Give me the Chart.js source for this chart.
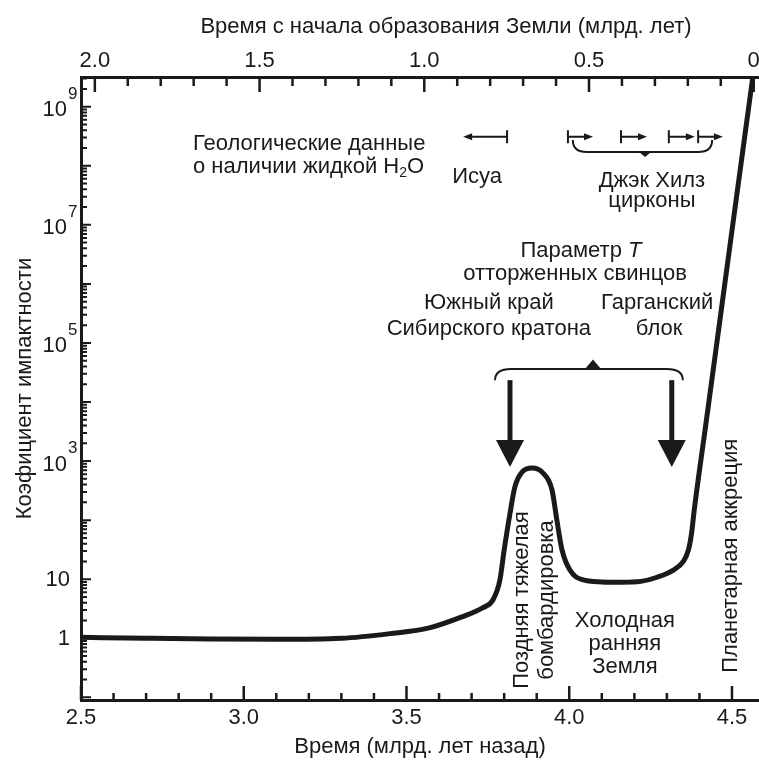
<!DOCTYPE html>
<html>
<head>
<meta charset="utf-8">
<script src="https://cdn.jsdelivr.net/npm/chart.js@4.4.1/dist/chart.umd.min.js"></script>
<style>
  html, body { margin: 0; padding: 0; background: #fff; }
  canvas { display: block; }
</style>
</head>
<body>
<canvas id="impact-chart" width="759" height="761"></canvas>
<script>
// time before present, Gyr (bottom axis)
const age_ga = [2.5, 2.7, 2.9, 3.1, 3.3, 3.45, 3.57, 3.67, 3.735, 3.766, 3.787, 3.80, 3.818, 3.833, 3.855, 3.886, 3.919, 3.947, 3.962, 3.978,
                4.002, 4.04, 4.10, 4.16, 4.22, 4.27, 4.32, 4.35, 4.366, 4.376, 4.384, 4.42, 4.46, 4.50, 4.54, 4.564];
// impact rate relative to today
const impact_rate = [1.04, 1.0, 0.97, 0.96, 1.0, 1.2, 1.5, 2.3, 3.3, 4.5, 9.7, 31, 130, 365, 650, 760, 630, 325, 100, 31,
                     14.3, 9.8, 9.0, 8.9, 9.2, 10.8, 14.3, 19.8, 31, 61, 148, 4300, 1.85e5, 8e6, 3.4e8, 3.2e9];
const bottom_labels = [2.5, 3.0, 3.5, 4.0, 4.5];
const top_labels = [2.0, 1.5, 1.0, 0.5, 0];
const y_label_powers = [0, 1, 3, 5, 7, 9];

const FONT = "'Liberation Sans', Arial, sans-serif";
const INK = '#1a1a1a';

const isHalf = v => Math.abs(v * 2 - Math.round(v * 2)) < 1e-6;
const tenths = (a, b) => {
   const out = [];
   for (let k = Math.round(a * 10); k <= Math.round(b * 10); k++) out.push({value: k / 10});
   return out;
};

//znaczniki osi skierowane do wewnątrz + podpisy osi Y z wykładnikami
const axisMarks = {
   id: 'axisMarks',
   afterDatasetsDraw(chart) {
      const {ctx, chartArea: a, scales: {x, x2, y}} = chart;
      ctx.save();
      ctx.strokeStyle = INK;
      ctx.lineWidth = 2.5;
      ctx.beginPath();
      x.ticks.forEach(t => {
         const px = x.getPixelForValue(t.value);
         ctx.moveTo(px, a.bottom);
         ctx.lineTo(px, a.bottom - (isHalf(t.value) ? 14 : 7));
      });
      x2.ticks.forEach(t => {
         const px = x2.getPixelForValue(t.value);
         ctx.moveTo(px, a.top);
         ctx.lineTo(px, a.top + (isHalf(t.value) ? 15 : 9));
      });
      ctx.stroke();
      ctx.lineWidth = 2;
      ctx.beginPath();
      y.ticks.forEach(t => {
         const py = y.getPixelForValue(t.value);
         const lg = Math.log10(t.value);
         const major = Math.abs(lg - Math.round(lg)) < 1e-9;
         ctx.moveTo(a.left, py);
         ctx.lineTo(a.left + (major ? 10 : 6), py);
      });
      ctx.stroke();

      ctx.fillStyle = INK;
      y_label_powers.forEach(p => {
         const py = y.getPixelForValue(Math.pow(10, p));
         ctx.font = '22px ' + FONT;
         ctx.textAlign = 'right';
         if (p < 2) {
            ctx.textBaseline = 'middle';
            ctx.fillText(p === 0 ? '1' : '10', a.left - 11, py + 1);
         } else {
            ctx.textBaseline = 'alphabetic';
            ctx.fillText('10', a.left - 14, py + 9.5);
            ctx.font = '17px ' + FONT;
            ctx.textAlign = 'left';
            ctx.fillText(String(p), a.left - 13, py - 8);
         }
      });

      // górny tytuł osi
      ctx.font = '22px ' + FONT;
      ctx.textAlign = 'center';
      ctx.textBaseline = 'alphabetic';
      ctx.fillText('Время с начала образования Земли (млрд. лет)', 446, 33);
      ctx.restore();
   }
};

function barArrow(ctx, barX, tipX, yy) {
   const dir = Math.sign(tipX - barX);
   ctx.lineWidth = 2;
   ctx.beginPath();
   ctx.moveTo(barX, yy - 6.5);
   ctx.lineTo(barX, yy + 6.5);
   ctx.moveTo(barX, yy);
   ctx.lineTo(tipX - dir * 6, yy);
   ctx.stroke();
   ctx.beginPath();
   ctx.moveTo(tipX, yy);
   ctx.lineTo(tipX - dir * 9, yy - 3.5);
   ctx.lineTo(tipX - dir * 9, yy + 3.5);
   ctx.closePath();
   ctx.fill();
}

function brace(ctx, xl, xr, yEnd, yLine, xTip, yTip, r, w) {
   ctx.lineWidth = 2;
   ctx.beginPath();
   ctx.moveTo(xl, yEnd);
   ctx.quadraticCurveTo(xl, yLine, xl + r, yLine);
   ctx.lineTo(xr - r, yLine);
   ctx.quadraticCurveTo(xr, yLine, xr, yEnd);
   ctx.stroke();
   ctx.beginPath();
   ctx.moveTo(xTip - w, yLine);
   ctx.lineTo(xTip, yTip);
   ctx.lineTo(xTip + w, yLine);
   ctx.closePath();
   ctx.fill();
}

function bigArrow(ctx, xx, yTop, yTip) {
   ctx.lineWidth = 5;
   ctx.beginPath();
   ctx.moveTo(xx, yTop);
   ctx.lineTo(xx, yTip - 25);
   ctx.stroke();
   ctx.beginPath();
   ctx.moveTo(xx - 14, yTip - 27);
   ctx.lineTo(xx + 14, yTip - 27);
   ctx.lineTo(xx, yTip);
   ctx.closePath();
   ctx.fill();
}

function vtext(ctx, lines, cx, cy, lh) {
   ctx.save();
   ctx.translate(cx, cy);
   ctx.rotate(-Math.PI / 2);
   ctx.textAlign = 'center';
   ctx.textBaseline = 'middle';
   lines.forEach((s, i) => ctx.fillText(s, 0, (i - (lines.length - 1) / 2) * lh));
   ctx.restore();
}

//adnotacje w układzie danych (wiek w mld lat, log10 wskaźnika)
const annotations = {
   id: 'annotations',
   afterDatasetsDraw(chart) {
      const {ctx, scales: {x, y}} = chart;
      const X = t => x.getPixelForValue(t);
      const Y = L => y.getPixelForValue(Math.pow(10, L));
      ctx.save();
      ctx.fillStyle = INK;
      ctx.strokeStyle = INK;
      ctx.font = '22px ' + FONT;
      ctx.textBaseline = 'alphabetic';

      // dane geologiczne
      ctx.textAlign = 'left';
      ctx.fillText('Геологические данные', X(2.844), Y(8.266));
      const l2 = 'о наличии жидкой H';
      ctx.fillText(l2, X(2.844), Y(7.882));
      let hx = X(2.844) + ctx.measureText(l2).width;
      ctx.font = '14px ' + FONT;
      ctx.fillText('2', hx, Y(7.882) + 4);
      hx += ctx.measureText('2').width;
      ctx.font = '22px ' + FONT;
      ctx.fillText('O', hx, Y(7.882));

      // Исуа
      barArrow(ctx, X(3.809), X(3.674), Y(8.49));
      ctx.textAlign = 'center';
      ctx.fillText('Исуа', X(3.717), Y(7.703));

      // Джэк Хилз
      [[3.996, 4.073], [4.159, 4.239], [4.306, 4.386], [4.396, 4.472]].forEach(([b, t]) => barArrow(ctx, X(b), X(t), Y(8.49)));
      brace(ctx, X(4.011), X(4.439), Y(8.436), Y(8.233), X(4.233), Y(8.148), 14, 6);
      ctx.fillText('Джэк Хилз', X(4.254), Y(7.64));
      ctx.fillText('цирконы', X(4.254), Y(7.306));

      // Pb
      const p1 = 'Параметр ';
      ctx.font = '22px ' + FONT;
      const w1 = ctx.measureText(p1).width;
      ctx.font = 'italic 22px ' + FONT;
      const w2 = ctx.measureText('T').width;
      const sx = X(4.036) - (w1 + w2) / 2;
      ctx.textAlign = 'left';
      ctx.font = '22px ' + FONT;
      ctx.fillText(p1, sx, Y(6.46));
      ctx.font = 'italic 22px ' + FONT;
      ctx.fillText('T', sx + w1, Y(6.46));
      ctx.font = '22px ' + FONT;
      ctx.textAlign = 'center';
      ctx.fillText('отторженных свинцов', X(4.018), Y(6.066));
      ctx.fillText('Южный край', X(3.753), Y(5.57));
      ctx.fillText('Сибирского кратона', X(3.753), Y(5.135));
      ctx.fillText('Гарганский', X(4.27), Y(5.57));
      ctx.fillText('блок', X(4.276), Y(5.135));
      brace(ctx, X(3.772), X(4.349), Y(4.37), Y(4.56), X(4.073), Y(4.72), 16, 8);
      bigArrow(ctx, X(3.818), Y(4.37), Y(2.9));
      bigArrow(ctx, X(4.315), Y(4.37), Y(2.9));

      // podpisy epok
      vtext(ctx, ['Поздняя тяжелая', 'бомбардировка'], X(3.894), Y(0.648), 25);
      ctx.fillText('Холодная', X(4.171), Y(0.196));
      ctx.fillText('ранняя', X(4.171), Y(-0.198));
      ctx.fillText('Земля', X(4.171), Y(-0.593));
      vtext(ctx, ['Планетарная аккреция'], X(4.497), Y(1.397), 25);
      ctx.restore();
   }
};

const axisFont = {family: FONT, size: 22};

const config = {
   type: 'line',
   data: {
      datasets: [{
         data: age_ga.map((t, i) => ({x: t, y: impact_rate[i]})),
         borderColor: INK,
         borderWidth: 5,
         pointRadius: 0,
         cubicInterpolationMode: 'monotone',
         fill: false,
         xAxisID: 'x',
         yAxisID: 'y'
      }]
   },
   options: {
      responsive: false,
      animation: false,
      devicePixelRatio: 1,
      layout: {padding: 0},
      plugins: {legend: {display: false}, tooltip: {enabled: false}},
      scales: {
         x: {
            type: 'linear', position: 'bottom', min: 2.5, max: 4.583,
            afterBuildTicks: s => { s.ticks = tenths(2.5, 4.5); },
            afterFit: s => { s.height = 61; },
            grid: {drawOnChartArea: false, drawTicks: false},
            border: {display: true, color: INK, width: 3},
            ticks: {autoSkip: false, maxRotation: 0, padding: 5, color: INK, font: axisFont,
                    callback: v => bottom_labels.some(b => Math.abs(b - v) < 1e-6) ? v.toFixed(1) : ''},
            title: {display: true, text: 'Время (млрд. лет назад)', color: INK, font: axisFont, padding: {top: 0, bottom: 1}}
         },
         x2: {
            type: 'linear', position: 'top', reverse: true, min: -0.016, max: 2.042,
            afterBuildTicks: s => { s.ticks = tenths(0, 2.0); },
            afterFit: s => { s.height = 77; },
            grid: {drawOnChartArea: false, drawTicks: false},
            border: {display: true, color: INK, width: 3},
            ticks: {autoSkip: false, maxRotation: 0, padding: 3, color: INK, font: axisFont,
                    callback: v => top_labels.some(b => Math.abs(b - v) < 1e-6) ? (v === 0 ? '0' : v.toFixed(1)) : ''}
         },
         y: {
            type: 'logarithmic', position: 'left', min: 0.0902, max: 3.18e9,
            afterBuildTicks: s => {
               const t = [];
               for (let e = -2; e <= 9; e++)
                  for (let m = 1; m <= 9; m++) {
                     const v = m * Math.pow(10, e);
                     if (v >= s.min && v <= s.max) t.push({value: v});
                  }
               s.ticks = t;
            },
            afterFit: s => { s.width = 81; },
            grid: {drawOnChartArea: false, drawTicks: false},
            border: {display: true, color: INK, width: 3},
            ticks: {display: false},
            title: {display: true, text: 'Коэфициент импактности', color: INK, font: axisFont, padding: {top: 12, bottom: 0}}
         }
      }
   },
   plugins: [axisMarks, annotations]
};

const impactChart = new Chart(document.getElementById('impact-chart'), config);
</script>
</body>
</html>
